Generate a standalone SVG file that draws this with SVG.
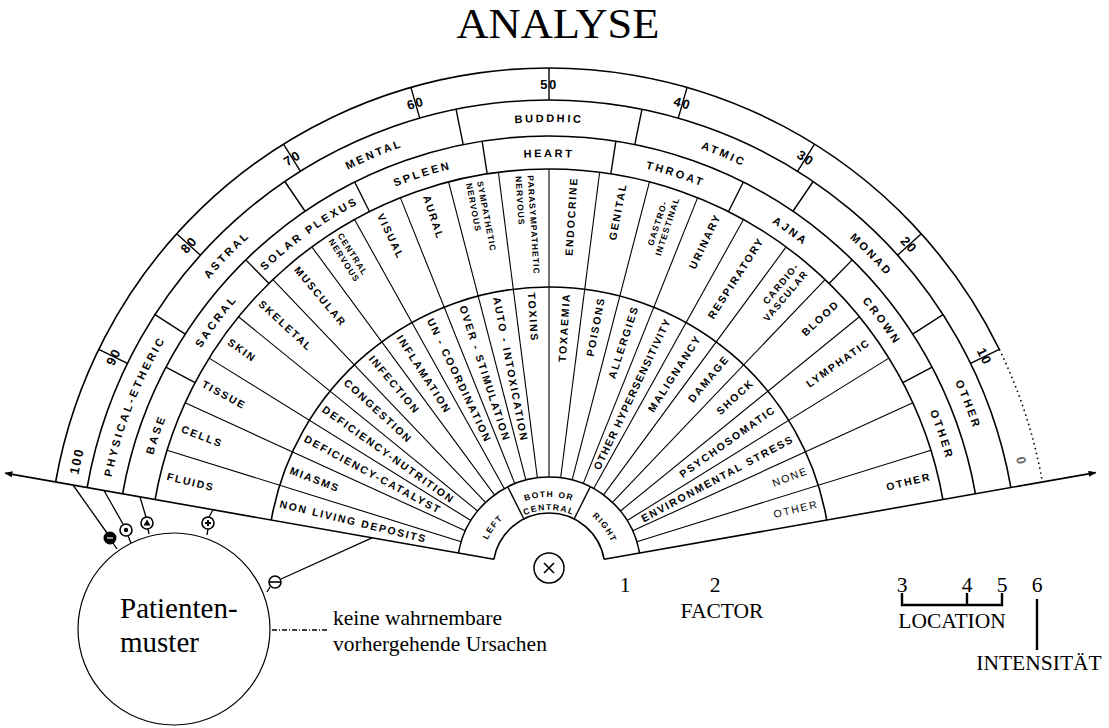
<svg xmlns="http://www.w3.org/2000/svg" width="1109" height="728" viewBox="0 0 1109 728">
<style>
.arc{fill:none;stroke:#000;stroke-width:1.6}
.sp line{stroke:#000;stroke-width:1.1}
.dv line{stroke:#000;stroke-width:1.4}
.lab{font-family:"Liberation Sans",Arial,sans-serif;font-weight:bold;font-size:10.5px;letter-spacing:1.8px;fill:#000}
.sm{font-size:8.5px;letter-spacing:1.1px}
.ring{font-family:"Liberation Sans",Arial,sans-serif;font-weight:bold;font-size:11px;letter-spacing:2.6px;fill:#000}
.num{font-size:13px;letter-spacing:1.5px}
.inr{font-size:8.5px;letter-spacing:1.4px}
.serif{font-family:"Liberation Serif","Times New Roman",serif;fill:#000}
.sym{fill:#fff;stroke:#000;stroke-width:1.6}
.con{stroke:#000;stroke-width:1.3;fill:none}
</style>
<defs>
<path id="p480" d="M76.29,485.65 A480,480 0 0 1 1021.71,485.65"/>
<path id="p447" d="M108.79,491.38 A447,447 0 0 1 989.21,491.38"/>
<path id="p412" d="M143.26,497.46 A412,412 0 0 1 954.74,497.46"/>
<path id="p72" d="M478.09,556.50 A72,72 0 0 1 619.91,556.50"/>
<path id="p68" d="M482.03,557.19 A68,68 0 0 1 615.97,557.19"/>
<path id="p59" d="M490.90,558.75 A59,59 0 0 1 607.10,558.75"/>
<marker id="arr" viewBox="0 0 8 6" refX="7" refY="3" markerWidth="8" markerHeight="6" markerUnits="userSpaceOnUse" orient="auto-start-reverse"><path d="M0,0 L8,3 L0,6 z" fill="#000"/></marker>
</defs>
<rect width="1109" height="728" fill="#fff"/>

<g id="title"><text class="serif" x="558" y="38" font-size="42" text-anchor="middle" textLength="203" lengthAdjust="spacingAndGlyphs">ANALYSE</text></g>

<g id="fan-frame">
<path class="arc" d="M493.85,559.28 A56,56 0 0 1 604.15,559.28"/>
<path class="arc" d="M458.40,553.02 A92,92 0 0 1 639.60,553.02"/>
<path class="arc" d="M271.28,520.03 A282,282 0 0 1 826.72,520.03"/>
<path class="arc" d="M155.08,499.54 A400,400 0 0 1 942.92,499.54"/>
<path class="arc" d="M122.58,493.81 A433,433 0 0 1 975.42,493.81"/>
<path class="arc" d="M87.12,487.56 A469,469 0 0 1 1010.88,487.56"/>
<path class="arc" d="M55.61,482.00 A501,501 0 0 1 999.29,349.38"/>
<path class="arc" d="M999.29,349.38 A501,501 0 0 1 1042.39,482.00" stroke-width="1.2" stroke-dasharray="1.5 3.5"/>
<path class="arc" d="M5.4,473.1 L493.85,559.28" marker-start="url(#arr)"/>
<path class="arc" d="M604.15,559.28 L1095.6,472.6" marker-end="url(#arr)"/>
</g>

<g id="ring-numbers" transform="translate(549 569)">
<g class="dv">
<line x1="469" x2="501" transform="rotate(-154)"/>
<line x1="469" x2="501" transform="rotate(-138)"/>
<line x1="469" x2="501" transform="rotate(-122)"/>
<line x1="469" x2="501" transform="rotate(-106)"/>
<line x1="469" x2="501" transform="rotate(-90)"/>
<line x1="469" x2="501" transform="rotate(-74)"/>
<line x1="469" x2="501" transform="rotate(-58)"/>
<line x1="469" x2="501" transform="rotate(-42)"/>
<line x1="469" x2="501" transform="rotate(-26)"/>
</g>
</g>
<g id="numbers" class="ring num">
<text text-anchor="middle"><textPath href="#p480" startOffset="1.8%">100</textPath></text>
<text text-anchor="middle"><textPath href="#p480" startOffset="10%">90</textPath></text>
<text text-anchor="middle"><textPath href="#p480" startOffset="20%">80</textPath></text>
<text text-anchor="middle"><textPath href="#p480" startOffset="30%">70</textPath></text>
<text text-anchor="middle"><textPath href="#p480" startOffset="40%">60</textPath></text>
<text text-anchor="middle"><textPath href="#p480" startOffset="50%">50</textPath></text>
<text text-anchor="middle"><textPath href="#p480" startOffset="60%">40</textPath></text>
<text text-anchor="middle"><textPath href="#p480" startOffset="70%">30</textPath></text>
<text text-anchor="middle"><textPath href="#p480" startOffset="80%">20</textPath></text>
<text text-anchor="middle"><textPath href="#p480" startOffset="90%">10</textPath></text>
<text text-anchor="middle" fill="#666"><textPath href="#p480" startOffset="98.2%">0</textPath></text>
</g>

<g id="ring-planes">
<g class="dv" transform="translate(549 569)">
<line x1="433" x2="469" transform="rotate(-147.143)"/>
<line x1="433" x2="469" transform="rotate(-124.286)"/>
<line x1="433" x2="469" transform="rotate(-101.429)"/>
<line x1="433" x2="469" transform="rotate(-78.571)"/>
<line x1="433" x2="469" transform="rotate(-55.714)"/>
<line x1="433" x2="469" transform="rotate(-32.857)"/>
</g>
<g class="ring">
<text text-anchor="middle"><textPath href="#p447" startOffset="7.14%">PHYSICAL-ETHERIC</textPath></text>
<text text-anchor="middle"><textPath href="#p447" startOffset="21.43%">ASTRAL</textPath></text>
<text text-anchor="middle"><textPath href="#p447" startOffset="35.71%">MENTAL</textPath></text>
<text text-anchor="middle"><textPath href="#p447" startOffset="50%">BUDDHIC</textPath></text>
<text text-anchor="middle"><textPath href="#p447" startOffset="64.29%">ATMIC</textPath></text>
<text text-anchor="middle"><textPath href="#p447" startOffset="78.57%">MONAD</textPath></text>
<text text-anchor="middle"><textPath href="#p447" startOffset="92.86%">OTHER</textPath></text>
</g>
</g>

<g id="ring-centres">
<g class="dv" transform="translate(549 569)">
<line x1="400" x2="433" transform="rotate(-152.222)"/>
<line x1="400" x2="433" transform="rotate(-134.444)"/>
<line x1="400" x2="433" transform="rotate(-116.667)"/>
<line x1="400" x2="433" transform="rotate(-98.889)"/>
<line x1="400" x2="433" transform="rotate(-81.111)"/>
<line x1="400" x2="433" transform="rotate(-63.333)"/>
<line x1="400" x2="433" transform="rotate(-45.556)"/>
<line x1="400" x2="433" transform="rotate(-27.778)"/>
</g>
<g class="ring">
<text text-anchor="middle"><textPath href="#p412" startOffset="5.56%">BASE</textPath></text>
<text text-anchor="middle"><textPath href="#p412" startOffset="16.67%">SACRAL</textPath></text>
<text text-anchor="middle"><textPath href="#p412" startOffset="27.78%">SOLAR PLEXUS</textPath></text>
<text text-anchor="middle"><textPath href="#p412" startOffset="38.89%">SPLEEN</textPath></text>
<text text-anchor="middle"><textPath href="#p412" startOffset="50%">HEART</textPath></text>
<text text-anchor="middle"><textPath href="#p412" startOffset="61.11%">THROAT</textPath></text>
<text text-anchor="middle"><textPath href="#p412" startOffset="72.22%">AJNA</textPath></text>
<text text-anchor="middle"><textPath href="#p412" startOffset="83.33%">CROWN</textPath></text>
<text text-anchor="middle"><textPath href="#p412" startOffset="94.44%">OTHER</textPath></text>
</g>
</g>

<g id="spokes" class="sp" transform="translate(549 569)">
<line x1="92" x2="400" transform="rotate(-162.727)"/>
<line x1="92" x2="400" transform="rotate(-155.455)"/>
<line x1="92" x2="400" transform="rotate(-148.182)"/>
<line x1="92" x2="400" transform="rotate(-140.909)"/>
<line x1="92" x2="400" transform="rotate(-133.636)"/>
<line x1="92" x2="400" transform="rotate(-126.364)"/>
<line x1="92" x2="400" transform="rotate(-119.091)"/>
<line x1="92" x2="400" transform="rotate(-111.818)"/>
<line x1="92" x2="400" transform="rotate(-104.545)"/>
<line x1="92" x2="400" transform="rotate(-97.273)"/>
<line x1="92" x2="400" transform="rotate(-90)"/>
<line x1="92" x2="400" transform="rotate(-82.727)"/>
<line x1="92" x2="400" transform="rotate(-75.455)"/>
<line x1="92" x2="400" transform="rotate(-68.182)"/>
<line x1="92" x2="400" transform="rotate(-60.909)"/>
<line x1="92" x2="400" transform="rotate(-53.636)"/>
<line x1="92" x2="400" transform="rotate(-46.364)"/>
<line x1="92" x2="400" transform="rotate(-39.091)"/>
<line x1="92" x2="400" transform="rotate(-31.818)"/>
<line x1="92" x2="400" transform="rotate(-24.545)"/>
<line x1="92" x2="400" transform="rotate(-17.273)"/>
</g>

<g id="ring-systems" class="lab" transform="translate(549 569)">
<text x="-393" y="3.6" transform="rotate(13.636)">FLUIDS</text>
<text x="-393" y="3.6" transform="rotate(20.909)">CELLS</text>
<text x="-393" y="3.6" transform="rotate(28.182)">TISSUE</text>
<text x="-393" y="3.6" transform="rotate(35.455)">SKIN</text>
<text x="-393" y="3.6" transform="rotate(42.727)">SKELETAL</text>
<text x="-393" y="3.6" transform="rotate(50)">MUSCULAR</text>
<g class="sm" transform="rotate(57.273)"><text x="-395" y="-2">CENTRAL</text><text x="-395" y="8.5">NERVOUS</text></g>
<text x="-393" y="3.6" transform="rotate(64.545)">VISUAL</text>
<text x="-393" y="3.6" transform="rotate(71.818)">AURAL</text>
<g class="sm" transform="rotate(79.091)"><text x="-394" y="-2.5">SYMPATHETIC</text><text x="-394" y="8.5">NERVOUS</text></g>
<g class="sm" transform="rotate(86.364)"><text x="-394" y="-3.5">PARASYMPATHETIC</text><text x="-394" y="8.5">NERVOUS</text></g>
<text x="393" y="3.6" text-anchor="end" transform="rotate(-86.364)">ENDOCRINE</text>
<text x="393" y="3.6" text-anchor="end" transform="rotate(-79.091)">GENITAL</text>
<g class="sm" transform="rotate(-71.818)"><text x="386" y="-2" text-anchor="end">GASTRO-</text><text x="393" y="8.5" text-anchor="end">INTESTINAL</text></g>
<text x="393" y="3.6" text-anchor="end" transform="rotate(-64.545)">URINARY</text>
<text x="393" y="3.6" text-anchor="end" transform="rotate(-57.273)">RESPIRATORY</text>
<g transform="rotate(-50)" font-size="9.5" letter-spacing="1.4"><text x="393" y="-2.5" text-anchor="end">CARDIO-</text><text x="393" y="9" text-anchor="end">VASCULAR</text></g>
<text x="393" y="3.6" text-anchor="end" transform="rotate(-42.727)">BLOOD</text>
<text x="393" y="3.6" text-anchor="end" transform="rotate(-35.455)">LYMPHATIC</text>
<text x="393" y="3.6" text-anchor="end" transform="rotate(-13.636)">OTHER</text>
</g>

<g id="ring-factors" class="lab" transform="translate(549 569)">
<text x="-277" y="3.6" transform="rotate(13.636)">NON LIVING DEPOSITS</text>
<text x="-277" y="3.6" transform="rotate(20.909)">MIASMS</text>
<text x="-277" y="3.6" transform="rotate(28.182)">DEFICIENCY-CATALYST</text>
<text x="-277" y="3.6" transform="rotate(35.455)">DEFICIENCY-NUTRITION</text>
<text x="-277" y="3.6" transform="rotate(42.727)">CONGESTION</text>
<text x="-277" y="3.6" transform="rotate(50)">INFECTION</text>
<text x="-277" y="3.6" transform="rotate(57.273)">INFLAMATION</text>
<text x="-277" y="3.6" transform="rotate(64.545)">UN - COORDINATION</text>
<text x="-277" y="3.6" transform="rotate(71.818)">OVER - STIMULATION</text>
<text x="-277" y="3.6" transform="rotate(79.091)">AUTO - INTOXICATION</text>
<text x="-277" y="3.6" transform="rotate(86.364)">TOXINS</text>
<text x="277" y="3.6" text-anchor="end" transform="rotate(-86.364)">TOXAEMIA</text>
<text x="277" y="3.6" text-anchor="end" transform="rotate(-79.091)">POISONS</text>
<text x="277" y="3.6" text-anchor="end" transform="rotate(-71.818)">ALLERGIES</text>
<text x="277" y="3.6" text-anchor="end" transform="rotate(-64.545)" letter-spacing="1.2">OTHER HYPERSENSITIVITY</text>
<text x="277" y="3.6" text-anchor="end" transform="rotate(-57.273)">MALIGNANCY</text>
<text x="277" y="3.6" text-anchor="end" transform="rotate(-50)">DAMAGE</text>
<text x="277" y="3.6" text-anchor="end" transform="rotate(-42.727)">SHOCK</text>
<text x="277" y="3.6" text-anchor="end" transform="rotate(-35.455)">PSYCHOSOMATIC</text>
<text x="277" y="3.6" text-anchor="end" transform="rotate(-28.182)">ENVIRONMENTAL STRESS</text>
<text x="277" y="3.6" text-anchor="end" transform="rotate(-20.909)" font-weight="normal">NONE</text>
<text x="277" y="3.6" text-anchor="end" transform="rotate(-13.636)" font-weight="normal">OTHER</text>
</g>

<g id="ring-side">
<g class="dv" transform="translate(549 569)">
<line x1="56" x2="92" transform="rotate(-116.667)"/>
<line x1="56" x2="92" transform="rotate(-63.333)"/>
</g>
<g class="ring inr">
<text text-anchor="middle"><textPath href="#p68" startOffset="16.67%">LEFT</textPath></text>
<text text-anchor="middle"><textPath href="#p72" startOffset="50%">BOTH OR</textPath></text>
<text text-anchor="middle"><textPath href="#p59" startOffset="50%">CENTRAL</textPath></text>
<text text-anchor="middle"><textPath href="#p68" startOffset="83.33%">RIGHT</textPath></text>
</g>
</g>

<g id="center-x">
<circle cx="549" cy="568" r="15" fill="none" stroke="#000" stroke-width="1.5"/>
<path d="M544,563 L554,573 M554,563 L544,573" stroke="#000" stroke-width="1.6"/>
</g>

<g id="connectors">
<path class="con" d="M73,485 L107,533"/>
<path class="con" d="M113,543 L117,549"/>
<path class="con" d="M104,490.5 L123,524"/>
<path class="con" d="M128,536 L131,543"/>
<path class="con" d="M140,497 L146,517"/>
<path class="con" d="M148,529 L149,534"/>
<path class="con" d="M213,509.7 L209,517"/>
<path class="con" d="M208,529 L207,535"/>
<path class="con" d="M281,579 L372,537.8"/>
<path class="con" d="M270,587 L267,592"/>
<path class="con" d="M272,630 L327,630" stroke-width="1" stroke-dasharray="5 2 1 2"/>
</g>

<g id="symbols">
<circle cx="110" cy="538" r="6.5" fill="#000"/>
<path d="M107,538 L113,538" stroke="#fff" stroke-width="1.2"/>
<circle class="sym" cx="126" cy="530" r="6"/>
<circle cx="126" cy="530" r="2.2" fill="#000"/>
<circle class="sym" cx="147" cy="523" r="6"/>
<path d="M147,519.5 L150.5,525.5 L143.5,525.5 z" fill="#000"/>
<circle class="sym" cx="208" cy="523" r="6"/>
<path d="M205,523 L211,523 M208,520 L208,526" stroke="#000" stroke-width="2"/>
<circle class="sym" cx="275" cy="582" r="6"/>
<path d="M269.5,582 L280.5,582" stroke="#000" stroke-width="1.6"/>
</g>

<g id="patient">
<circle cx="174" cy="629" r="96" fill="none" stroke="#000" stroke-width="1.2"/>
<text class="serif" x="120" y="618" font-size="29">Patienten-</text>
<text class="serif" x="120" y="652" font-size="29">muster</text>
</g>

<g id="note" class="serif" font-size="21.5">
<text x="333" y="625">keine wahrnembare</text>
<text x="333" y="651">vorhergehende Ursachen</text>
</g>

<g id="legend" class="serif" font-size="21.5" text-anchor="middle">
<text x="625" y="592">1</text>
<text x="715" y="592">2</text>
<text x="722" y="618">FACTOR</text>
<text x="902" y="592">3</text>
<text x="967" y="592">4</text>
<text x="1002" y="592">5</text>
<text x="1037" y="592">6</text>
<path d="M902,593 L902,605 L1002,605 L1002,593 M967,593 L967,605" fill="none" stroke="#000" stroke-width="2.4"/>
<text x="952" y="628">LOCATION</text>
<path d="M1037,599 L1037,650" stroke="#000" stroke-width="2.4"/>
<text x="1039" y="670">INTENSITÄT</text>
</g>
</svg>
